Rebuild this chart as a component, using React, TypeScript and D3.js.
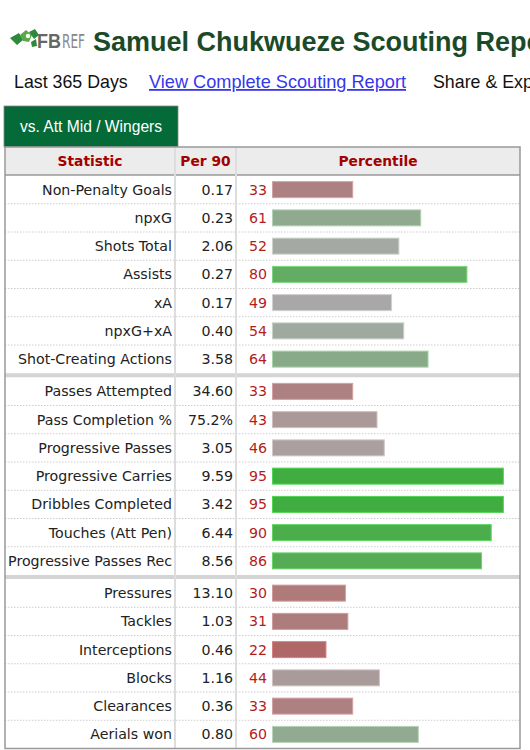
import React from 'react';
import * as d3 from 'd3';

// --- Data ---
const statNames = [
  'Non-Penalty Goals', 'npxG', 'Shots Total', 'Assists', 'xA', 'npxG+xA', 'Shot-Creating Actions',
  'Passes Attempted', 'Pass Completion %', 'Progressive Passes', 'Progressive Carries',
  'Dribbles Completed', 'Touches (Att Pen)', 'Progressive Passes Rec',
  'Pressures', 'Tackles', 'Interceptions', 'Blocks', 'Clearances', 'Aerials won',
];
const per90 = [
  '0.17', '0.23', '2.06', '0.27', '0.17', '0.40', '3.58',
  '34.60', '75.2%', '3.05', '9.59', '3.42', '6.44', '8.56',
  '13.10', '1.03', '0.46', '1.16', '0.36', '0.80',
];
const percentiles = [33, 61, 52, 80, 49, 54, 64, 33, 43, 46, 95, 95, 90, 86, 30, 31, 22, 44, 33, 60];
// group each row belongs to (attacking / possession / defending)
const groups = [0, 0, 0, 0, 0, 0, 0, 1, 1, 1, 1, 1, 1, 1, 2, 2, 2, 2, 2, 2];
const headers = ['Statistic', 'Per 90', 'Percentile'];

const W = 530;
const H = 750;

const TABLE_FONT = '"DejaVu Sans", Verdana, sans-serif';
const SANS = '"Liberation Sans", Arial, Helvetica, sans-serif';

export default function App() {
  // table frame
  const left = 5;
  const right = 520;
  const col1 = 175; // statistic | per 90
  const col2 = 236; // per 90 | percentile
  const headTop = 147;
  const headBottom = 175;

  const rowH = 28.25;
  const sepH = 4;

  // row slot -> pixel; groups add a little extra gap
  const y = d3.scaleLinear().domain([0, 1]).range([headBottom + 0.5, headBottom + 0.5 + rowH]);
  const rowTop = (i: number) => y(i) + groups[i] * sepH;

  const x = d3.scaleLinear().domain([0, 100]).range([272, 515]);

  const color = d3
    .scaleLinear<string>()
    .domain([20, 50, 95])
    .range(['#b06262', '#a9a9a9', '#40ad40'])
    .clamp(true);

  const rows = statNames.map((name, i) => ({
    name,
    val: per90[i],
    pct: percentiles[i],
    top: rowTop(i),
    group: groups[i],
  }));

  const last = rows[rows.length - 1];
  const tableBottom = last.top + rowH;

  // separators between groups
  const groupSeps = rows.filter((r, i) => i > 0 && r.group !== rows[i - 1].group).map((r) => r.top - sepH);

  const fs = 14.2;

  return (
    <svg
      width={W}
      height={H}
      style={{ position: 'absolute', left: 0, top: 0, background: '#fff' }}
    >
      {/* logo */}
      <g transform="translate(10,31)">
        <path d="M0,7 L9,2 L13,9 L7,14 Z" fill="#2c8a3a" />
        <path d="M10,4 L16,-1 L22,4 L19,11 L13,10 Z" fill="#5aaa4a" />
        <path d="M19,1 L25,-2 L29,4 L24,8 Z" fill="#2c8a3a" />
        <path d="M21,11 L26,8 L27,15 L22,16 Z" fill="#2c8a3a" />
        <circle cx={18} cy={5} r={2.2} fill="#fff" />
        <text x={27} y={17} fontFamily={SANS} fontWeight={700} fontSize={20} fill="#666" textLength={24} lengthAdjust="spacingAndGlyphs">FB</text>
        <text x={52} y={17} fontFamily={'"Liberation Sans Narrow", "DejaVu Sans Condensed", sans-serif'} fontSize={20} fill="#888" textLength={23} lengthAdjust="spacingAndGlyphs">REF</text>
      </g>
      <text x={93} y={51} fontFamily={SANS} fontWeight={700} fontSize={27} fill="#1b4a29">
        Samuel Chukwueze Scouting Report
      </text>

      {/* subnav */}
      <text x={14} y={88} fontFamily={SANS} fontSize={17.8} fill="#111">Last 365 Days</text>
      <text x={149} y={88} fontFamily={SANS} fontSize={17.8} fill="#3636ee" textDecoration="underline" textLength={257} lengthAdjust="spacingAndGlyphs">
        View Complete Scouting Report
      </text>
      <text x={433} y={88} fontFamily={SANS} fontSize={17.8} fill="#111">Share &amp; Export</text>

      {/* tab */}
      <rect x={4} y={106} width={174} height={41} fill="#046a38" stroke="#888" strokeWidth={0.8} />
      <text x={91} y={132} textAnchor="middle" fontFamily={SANS} fontSize={15.6} fill="#fff">
        vs. Att Mid / Wingers
      </text>

      {/* header */}
      <rect x={left} y={headTop} width={right - left} height={headBottom - headTop} fill="#ececec" />
      {headers.map((h, i) => {
        const cx = i === 0 ? (left + col1) / 2 : i === 1 ? (col1 + col2) / 2 : (col2 + right) / 2;
        return (
          <text key={h} x={cx} y={166} textAnchor="middle" fontFamily={TABLE_FONT} fontWeight={700} fontSize={13.8} fill="#a30000">
            {h}
          </text>
        );
      })}
      <line x1={left} x2={right} y1={headBottom} y2={headBottom} stroke="#999" strokeWidth={1.5} />

      {/* rows */}
      {rows.map((r, i) => {
        const cy = r.top + rowH / 2;
        const nextIsSep = i < rows.length - 1 && rows[i + 1].group !== r.group;
        return (
          <g key={r.name}>
            {i < rows.length - 1 && !nextIsSep && (
              <line x1={left} x2={right} y1={r.top + rowH} y2={r.top + rowH} stroke="#ccc" strokeWidth={1} strokeDasharray="1.5,1.5" />
            )}
            <text x={172} y={cy + 5} textAnchor="end" fontFamily={TABLE_FONT} fontSize={fs} fill="#222">
              {r.name}
            </text>
            <text x={233} y={cy + 5} textAnchor="end" fontFamily={TABLE_FONT} fontSize={fs} fill="#222">
              {r.val}
            </text>
            <text x={249} y={cy + 5} fontFamily={TABLE_FONT} fontSize={fs} fill="#b41c1c">
              {r.pct}
            </text>
            <rect
              x={x(0) + 0.5}
              y={cy - 8}
              width={x(r.pct) - x(0)}
              height={16}
              fill={color(r.pct)}
              stroke={d3.color(color(r.pct))!.brighter(0.6).formatHex()}
              strokeWidth={1}
            />
          </g>
        );
      })}

      {/* group separators */}
      {groupSeps.map((s) => (
        <rect key={s} x={left} y={s} width={right - left} height={sepH} fill="#d4d4d4" />
      ))}

      {/* column dividers */}
      <line x1={col1} x2={col1} y1={headTop} y2={tableBottom} stroke="#ddd" strokeWidth={2} />
      <line x1={col2} x2={col2} y1={headTop} y2={tableBottom} stroke="#ddd" strokeWidth={2} />

      {/* outer border */}
      <rect x={left} y={headTop} width={right - left} height={tableBottom - headTop} fill="none" stroke="#999" strokeWidth={1.5} />
    </svg>
  );
}
